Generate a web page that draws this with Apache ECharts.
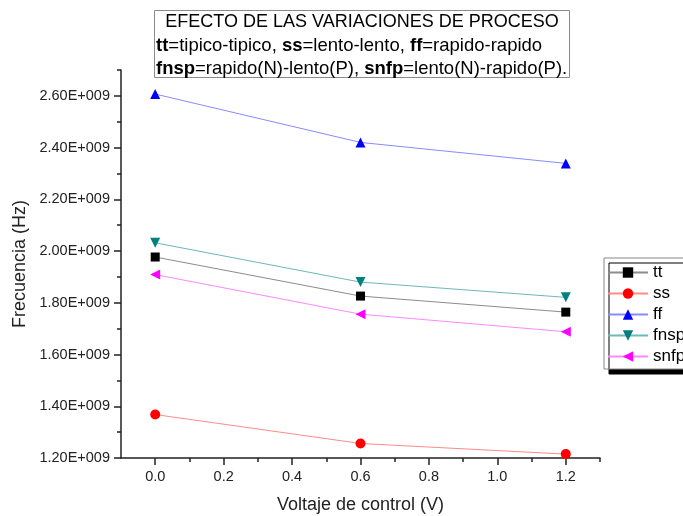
<!DOCTYPE html>
<html>
<head>
<meta charset="utf-8">
<script src="https://cdn.jsdelivr.net/npm/echarts@6/dist/echarts.min.js"></script>
<style>
  html, body { margin: 0; padding: 0; background: #fff; }
  #chart { width: 683px; height: 516px; }
</style>
</head>
<body>
<div id="chart"></div>
<script>
// Control voltage (V)
const voltages = [0.0, 0.6, 1.2];
// Oscillation frequency (Hz) per process corner
const tt = [1.977e9, 1.826e9, 1.764e9];
const ss = [1.368e9, 1.256e9, 1.215e9];
const ff = [2.607e9, 2.420e9, 2.339e9];
const fnsp = [2.032e9, 1.880e9, 1.821e9];
const snfp = [1.909e9, 1.756e9, 1.688e9];

// Axis tick positions
const xMajor = [0.0, 0.2, 0.4, 0.6, 0.8, 1.0, 1.2];
const xMinor = [0.1, 0.3, 0.5, 0.7, 0.9, 1.1, 1.3];
const yMajor = [1.2e9, 1.4e9, 1.6e9, 1.8e9, 2.0e9, 2.2e9, 2.4e9, 2.6e9];
const yMinor = [1.3e9, 1.5e9, 1.7e9, 1.9e9, 2.1e9, 2.3e9, 2.5e9, 2.7e9];

const FONT = '"Liberation Sans", Arial, sans-serif';
const AXIS_COLOR = '#222';

function pairs(arr) {
  return voltages.map((v, i) => [v, arr[i]]);
}

function makeSeries(name, data, lineColor, markColor, symbol, size) {
  return {
    name: name,
    type: 'line',
    data: pairs(data),
    xAxisIndex: 0,
    yAxisIndex: 0,
    symbol: symbol,
    symbolSize: size,
    showAllSymbol: true,
    lineStyle: { color: lineColor, width: 1 },
    itemStyle: { color: markColor, borderWidth: 0 },
    emphasis: { disabled: true }
  };
}

const chart = echarts.init(document.getElementById('chart'), null, { renderer: 'canvas' });

const titleFont = { fontFamily: FONT, color: '#000', lineHeight: 23 };

chart.setOption({
  animation: false,
  backgroundColor: '#fff',
  title: {
    left: 154,
    top: 8,
    padding: [3, 2, 0, 2],
    borderColor: '#8a8a8a',
    borderWidth: 1,
    backgroundColor: '#fff',
    text: '{h|EFECTO DE LAS VARIACIONES DE PROCESO}\n' +
          '{b|tt}{n|=tipico-tipico, }{b|ss}{n|=lento-lento, }{b|ff}{n|=rapido-rapido}\n' +
          '{b|fnsp}{n|=rapido(N)-lento(P), }{b|snfp}{n|=lento(N)-rapido(P).}',
    textStyle: {
      rich: {
        h: Object.assign({ fontSize: 18, fontWeight: 'normal', width: 412, align: 'center' }, titleFont),
        n: Object.assign({ fontSize: 18.5, fontWeight: 'normal' }, titleFont),
        b: Object.assign({ fontSize: 18.5, fontWeight: 'bold' }, titleFont)
      }
    }
  },
  legend: {
    orient: 'vertical',
    left: 604,
    top: 258,
    padding: [6, 12, 4, 3],
    itemGap: 4,
    itemWidth: 40,
    itemHeight: 13,
    backgroundColor: '#fff',
    borderColor: '#888',
    borderWidth: 1,
    shadowColor: '#000',
    shadowBlur: 0,
    shadowOffsetX: 5,
    shadowOffsetY: 5,
    textStyle: { fontFamily: FONT, fontSize: 17, color: '#000', padding: [0, 0, 0, 0] },
    data: ['tt', 'ss', 'ff', 'fnsp', 'snfp']
  },
  grid: { left: 121, right: 83, top: 70, bottom: 58, containLabel: false, outerBoundsMode: 'none' },
  xAxis: [
    {
      type: 'value',
      min: -0.1,
      max: 1.3,
      position: 'bottom',
      name: 'Voltaje de control (V)',
      nameLocation: 'middle',
      nameGap: 38,
      nameTextStyle: { fontFamily: FONT, fontSize: 18, color: '#222' },
      axisLine: { show: true, onZero: false, lineStyle: { color: AXIS_COLOR, width: 1.5 } },
      axisTick: { show: true, inside: false, length: 7, customValues: xMajor, lineStyle: { color: AXIS_COLOR, width: 1.5 } },
      axisLabel: {
        customValues: xMajor,
        margin: 11,
        fontFamily: FONT, fontSize: 14.5, color: '#222',
        formatter: v => v.toFixed(1)
      },
      splitLine: { show: false }
    },
    {
      type: 'value',
      min: -0.1,
      max: 1.3,
      position: 'bottom',
      offset: 0,
      axisLine: { show: false, onZero: false },
      axisTick: { show: true, inside: false, length: 4, customValues: xMinor, lineStyle: { color: AXIS_COLOR, width: 1.5 } },
      axisLabel: { show: false },
      splitLine: { show: false }
    }
  ],
  yAxis: [
    {
      type: 'value',
      min: 1.2e9,
      max: 2.7e9,
      position: 'left',
      name: 'Frecuencia (Hz)',
      nameLocation: 'middle',
      nameGap: 91,
      nameTextStyle: { fontFamily: FONT, fontSize: 18, color: '#222' },
      axisLine: { show: true, onZero: false, lineStyle: { color: AXIS_COLOR, width: 1.5 } },
      axisTick: { show: true, inside: false, length: 7, customValues: yMajor, lineStyle: { color: AXIS_COLOR, width: 1.5 } },
      axisLabel: {
        customValues: yMajor,
        margin: 11,
        fontFamily: FONT, fontSize: 14.5, color: '#222',
        formatter: v => (v / 1e9).toFixed(2) + 'E+009'
      },
      splitLine: { show: false }
    },
    {
      type: 'value',
      min: 1.2e9,
      max: 2.7e9,
      position: 'left',
      offset: 0,
      axisLine: { show: false, onZero: false },
      axisTick: { show: true, inside: false, length: 4, customValues: yMinor, lineStyle: { color: AXIS_COLOR, width: 1.5 } },
      axisLabel: { show: false },
      splitLine: { show: false }
    }
  ],
  series: [
    makeSeries('tt', tt, '#8c8c8c', '#000000', 'rect', 9),
    makeSeries('ss', ss, '#ff8a8a', '#ff0000', 'circle', 10),
    makeSeries('ff', ff, '#8a8aff', '#0000ff', 'triangle', 10),
    makeSeries('fnsp', fnsp, '#6fb8b8', '#008080', 'path://M0,0L10,0L5,9Z', 10),
    makeSeries('snfp', snfp, '#ff88ff', '#ff00ff', 'path://M0,5L9,0L9,10Z', 10)
  ]
});
</script>
</body>
</html>
